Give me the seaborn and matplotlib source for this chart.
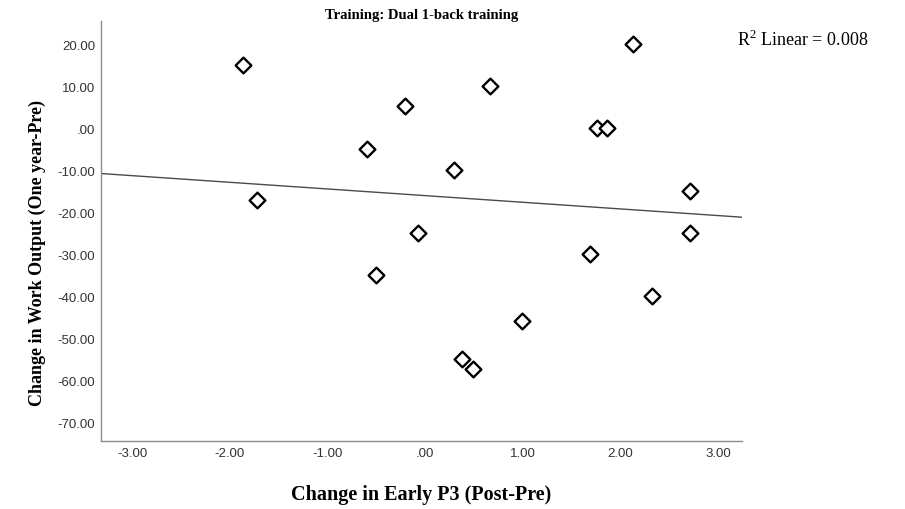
import matplotlib
matplotlib.use("Agg")
import matplotlib.pyplot as plt
from matplotlib.ticker import FuncFormatter, MultipleLocator
import numpy as np
import pandas as pd
import seaborn as sns

# Change scores per participant (Dual 1-back training group)
early_p3_change = [-1.87, -1.72, -0.60, -0.50, -0.21, -0.07, 0.30, 0.38, 0.49,
                   0.66, 0.99, 1.69, 1.76, 1.86, 2.13, 2.32, 2.71, 2.71]
work_output_change = [15.2, -16.9, -4.8, -34.8, 5.5, -24.8, -9.8, -54.8, -57.1,
                      10.2, -45.7, -29.8, 0.2, 0.2, 20.2, -39.8, -14.8, -24.8]
r2_label = "0.008"

title = "Training: Dual 1-back training"
x_label = "Change in Early P3 (Post-Pre)"
y_label = "Change in Work Output (One year-Pre)"

df = pd.DataFrame({"x": early_p3_change, "y": work_output_change})

sns.set_theme(style="white")
plt.rcParams["font.family"] = ["Liberation Sans", "DejaVu Sans"]
plt.rcParams["mathtext.fontset"] = "custom"
plt.rcParams["mathtext.rm"] = "Liberation Serif"

fig = plt.figure(figsize=(9.05, 5.10), dpi=100)
W, H = 905, 510
left, right, top, bottom = 101, 742, 22, 442
ax = fig.add_axes([left / W, 1 - bottom / H, (right - left) / W, (bottom - top) / H])

ax.set_xlim(-3.32, 3.245)
ax.set_ylim(-74.3, 25.7)

# Fitted linear regression line spanning the full x range
sns.regplot(data=df, x="x", y="y", ax=ax, scatter=False, ci=None, truncate=False,
            line_kws=dict(color="#4a4a4a", lw=1.0))

sns.scatterplot(data=df, x="x", y="y", ax=ax, marker="D", s=64,
                color="white", edgecolor="black", linewidth=1.7, zorder=3)


def spss_fmt(v, pos):
    s = f"{v:.2f}"
    if abs(v) < 1e-9:
        return ".00"
    return s


ax.xaxis.set_major_locator(MultipleLocator(1.0))
ax.yaxis.set_major_locator(MultipleLocator(10.0))
ax.xaxis.set_major_formatter(FuncFormatter(spss_fmt))
ax.yaxis.set_major_formatter(FuncFormatter(spss_fmt))
ax.tick_params(axis="both", length=0, labelsize=9.5, labelcolor="#333333", pad=4)

for side in ("top", "right"):
    ax.spines[side].set_visible(False)
for side in ("left", "bottom"):
    ax.spines[side].set_color("#8c8c8c")
    ax.spines[side].set_linewidth(1.0)

serif = ["Liberation Serif", "DejaVu Serif"]
ax.set_xlabel(x_label, family=serif, weight="bold", fontsize=14.5, color="black", labelpad=18)
ax.set_ylabel(y_label, family=serif, weight="bold", fontsize=13, color="black")
ax.yaxis.set_label_coords(-0.086, 0.45)
ax.set_title(title, family=serif, weight="bold", fontsize=10.5, color="black", pad=2)

fig.text(737 / W, 1 - 40 / H, r"R$^{2}$ Linear = " + r2_label, family=serif,
         fontsize=13, color="black", va="center", ha="left")

fig.savefig("out.png", dpi=100, facecolor="white")
